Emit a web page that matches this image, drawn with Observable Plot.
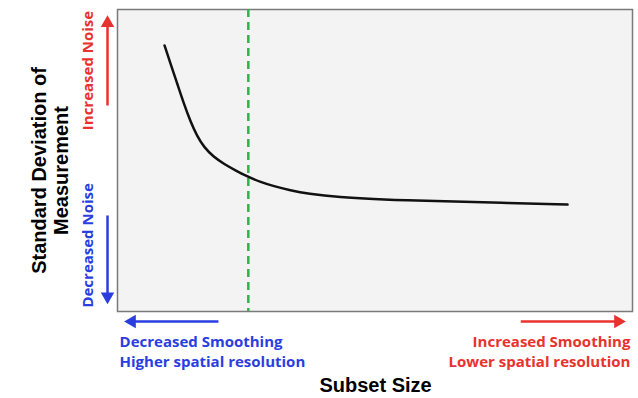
<!DOCTYPE html>
<html><head><meta charset="utf-8">
<script src="https://cdn.jsdelivr.net/npm/d3@7"></script>
<script src="https://cdn.jsdelivr.net/npm/@observablehq/plot@0.6"></script>
<style>body{margin:0;background:#fff;}</style>
</head><body><div id="chart"></div>
<script>
// Conceptual curve: subset size (arbitrary units 0-100) vs std. deviation (arbitrary units 0-100)
const subsetSize = [9.13, 10.29, 11.59, 12.87, 14.17, 15.48, 16.76, 18.70, 20.64, 23.24, 25.44, 27.77, 30.29, 33.59, 36.83, 43.30, 49.71, 56.25, 62.72, 74.37, 87.38];
const stdDev     = [88.1, 82.1, 75.5, 68.9, 62.9, 58.0, 54.5, 51.1, 48.9, 46.4, 44.5, 42.9, 41.5, 40.1, 39.0, 37.8, 37.2, 36.8, 36.5, 36.0, 35.4];
const optimalSubset = [25.4];
const yTitle = "Standard Deviation of\nMeasurement";
const xTitle = "Subset Size";
const noiseLabels = ["Increased Noise", "Decreased Noise"];
const smoothLeft = "Decreased Smoothing\nHigher spatial resolution";
const smoothRight = "Increased Smoothing\nLower spatial resolution";

const curve = subsetSize.map((x, i) => ({x, y: stdDev[i]}));
const RED = "#e8322e", BLUE = "#2a3ee0";
const bodyFont = "'Open Sans', sans-serif";
const titleFont = "Arial, 'Liberation Sans', sans-serif";

// annotation arrows: shaft + filled head
const arrows = [
  {x1: -1.94, y1: 68.2, x2: -1.94, y2: 95.5, color: RED, rot: 0},
  {x1: -1.94, y1: 31.8, x2: -1.94, y2: 5.0, color: BLUE, rot: 180},
  {x1: 19.6, y1: -3.3, x2: 2.8, y2: -3.3, color: BLUE, rot: -90},
  {x1: 78.3, y1: -3.3, x2: 97.2, y2: -3.3, color: RED, rot: 90}
];

const chart = Plot.plot({
  width: 638, height: 398,
  marginLeft: 117, marginRight: 6, marginTop: 9, marginBottom: 87,
  x: {domain: [0, 100], axis: null},
  y: {domain: [0, 100], axis: null},
  style: {background: "#fff", overflow: "visible"},
  marks: [
    Plot.frame({fill: "#f3f3f3", stroke: "#7a7a7a", strokeWidth: 1.5}),
    Plot.ruleX(optimalSubset, {stroke: "#2fb34a", strokeWidth: 2.5, strokeDasharray: "8,5"}),
    Plot.line(curve, {x: "x", y: "y", curve: "basis", stroke: "#111", strokeWidth: 2.5}),
    Plot.link(arrows, {x1: "x1", y1: "y1", x2: "x2", y2: "y2", stroke: "color", strokeWidth: 2.5, clip: false}),
    Plot.dot(arrows, {x: "x2", y: "y2", symbol: "triangle", rotate: "rot", fill: "color", r: 5, stroke: "none", clip: false}),
    // rotated labels
    Plot.text([yTitle], {x: -13.2, y: 46.7, text: d => d, rotate: -90, fontSize: 20, fontWeight: "bold", fontFamily: titleFont, fill: "#000", lineHeight: 1.1}),
    Plot.text([noiseLabels[0]], {x: -5.63, y: 79.8, text: d => d, rotate: -90, fontSize: 15, fontWeight: "bold", fontFamily: bodyFont, fill: RED}),
    Plot.text([noiseLabels[1]], {x: -5.63, y: 21.9, text: d => d, rotate: -90, fontSize: 15, fontWeight: "bold", fontFamily: bodyFont, fill: BLUE}),
    // bottom labels
    Plot.text([smoothLeft], {x: 0.4, y: -12.9, text: d => d, textAnchor: "start", fontSize: 15, fontWeight: "bold", fontFamily: bodyFont, fill: BLUE, lineHeight: 1.35}),
    Plot.text([smoothRight], {x: 99.6, y: -12.9, text: d => d, textAnchor: "end", fontSize: 15, fontWeight: "bold", fontFamily: bodyFont, fill: RED, lineHeight: 1.35}),
    Plot.text([xTitle], {x: 50.1, y: -24.5, text: d => d, fontSize: 20, fontWeight: "bold", fontFamily: titleFont, fill: "#000"})
  ]
});
document.getElementById("chart").appendChild(chart);
</script>
</body></html>
